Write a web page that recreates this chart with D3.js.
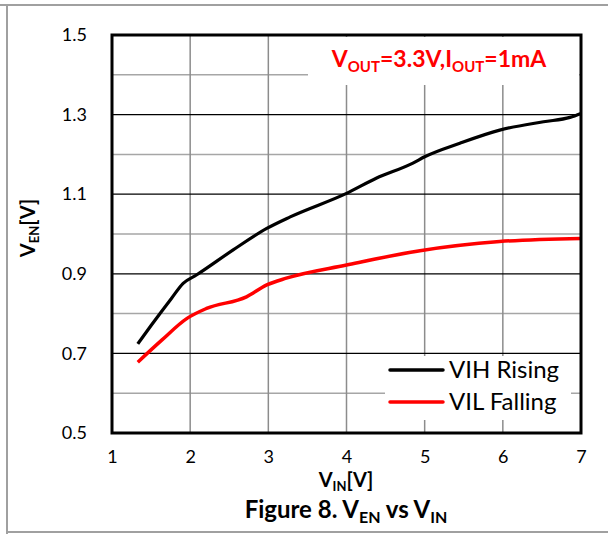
<!DOCTYPE html>
<html><head><meta charset="utf-8">
<script src="https://cdn.jsdelivr.net/npm/d3@7"></script>
<style>body{margin:0;background:#fff}svg{display:block}</style>
</head><body>
<svg id="c" width="608" height="534"></svg>
<script>
const xTicks = [1, 2, 3, 4, 5, 6, 7];
const yTicks = [0.5, 0.7, 0.9, 1.1, 1.3, 1.5];
const yMinorTicks = [0.6, 0.8, 1.0, 1.2, 1.4];
const vihX = [1.33, 1.5, 1.76, 1.91, 2.08, 2.55, 2.98, 3.28, 4.0, 4.38, 4.85, 5.0, 5.45, 5.96, 6.52, 6.86, 7.0];
const vihY = [0.724, 0.77, 0.838, 0.876, 0.897, 0.96, 1.014, 1.043, 1.102, 1.14, 1.178, 1.194, 1.228, 1.261, 1.282, 1.293, 1.303];
const vilX = [1.33, 1.64, 1.96, 2.21, 2.72, 2.98, 3.23, 4.0, 4.94, 5.96, 7.0];
const vilY = [0.678, 0.734, 0.788, 0.813, 0.842, 0.872, 0.889, 0.922, 0.958, 0.981, 0.989];
const seriesNames = ["VIH Rising", "VIL Falling"];
const seriesColors = ["#000000", "#ff0000"];

const svg = d3.select("#c");
const F = "Lato, 'Open Sans', sans-serif";
svg.append("line").attr("x1",0).attr("x2",608).attr("y1",5).attr("y2",5).attr("stroke","#a0a0a0").attr("stroke-width",2);
svg.append("line").attr("x1",7).attr("x2",7).attr("y1",5).attr("y2",534).attr("stroke","#a0a0a0").attr("stroke-width",2);
svg.append("line").attr("x1",7).attr("x2",608).attr("y1",532).attr("y2",532).attr("stroke","#a0a0a0").attr("stroke-width",2);

const L = 112, R = 581, T = 35, B = 433;
const x = d3.scaleLinear().domain([1, 7]).range([L, R]);
const y = d3.scaleLinear().domain([0.5, 1.5]).range([B, T]);

const g = svg.append("g");
g.selectAll(".hm").data(yMinorTicks).enter().append("line")
  .attr("x1", L).attr("x2", R).attr("y1", d => y(d)).attr("y2", d => y(d))
  .attr("stroke", "#a6a6a6").attr("stroke-width", 1.5);
g.selectAll(".vg").data(xTicks.slice(1, -1)).enter().append("line")
  .attr("x1", d => x(d)).attr("x2", d => x(d)).attr("y1", T).attr("y2", B)
  .attr("stroke", "#8c8c8c").attr("stroke-width", 1.5);
g.selectAll(".hM").data(yTicks.slice(1, -1)).enter().append("line")
  .attr("x1", L).attr("x2", R).attr("y1", d => y(d)).attr("y2", d => y(d))
  .attr("stroke", "#000").attr("stroke-width", 1.2);

svg.append("rect").attr("x", 308).attr("y", T + 2).attr("width", R - 310).attr("height", 48).attr("fill", "#fff");
svg.append("rect").attr("x", 385).attr("y", 356).attr("width", 186).attr("height", 64).attr("fill", "#fff");

const line = d3.line().x(d => x(d[0])).y(d => y(d[1])).curve(d3.curveMonotoneX);
const vih = vihX.map((v, i) => [v, vihY[i]]);
const vil = vilX.map((v, i) => [v, vilY[i]]);
svg.append("path").datum(vih).attr("d", line).attr("fill", "none").attr("stroke", seriesColors[0]).attr("stroke-width", 3.2).attr("stroke-linejoin","round");
svg.append("path").datum(vil).attr("d", line).attr("fill", "none").attr("stroke", seriesColors[1]).attr("stroke-width", 3.5).attr("stroke-linejoin","round");

svg.append("rect").attr("x", L).attr("y", T).attr("width", R - L).attr("height", B - T)
  .attr("fill", "none").attr("stroke", "#000").attr("stroke-width", 3);

const yAxis = d3.axisLeft(y).tickValues(yTicks).tickSize(0).tickPadding(0).tickFormat(d3.format(".1f"));
const ya = svg.append("g").attr("transform", `translate(87,0)`).call(yAxis);
ya.select(".domain").remove();
ya.selectAll("text").attr("font-family", F).attr("font-size", 18).attr("fill", "#000");

const xAxis = d3.axisBottom(x).tickValues(xTicks).tickSize(0).tickPadding(0).tickFormat(d3.format("d"));
const xa = svg.append("g").attr("transform", `translate(0,450)`).call(xAxis);
xa.select(".domain").remove();
xa.selectAll("text").attr("font-family", F).attr("font-size", 18).attr("fill", "#000");

const xt = svg.append("text").attr("x", 346).attr("y", 487).attr("text-anchor", "middle")
  .attr("font-family", F).attr("font-weight", "bold").attr("font-size", 20);
xt.append("tspan").text("V");
xt.append("tspan").attr("font-size", 13).attr("dy", 4).text("IN");
xt.append("tspan").attr("dy", -4).text("[V]");

const cp = svg.append("text").attr("x", 346).attr("y", 518).attr("text-anchor", "middle")
  .attr("font-family", F).attr("font-weight", "bold").attr("font-size", 24);
cp.append("tspan").text("Figure 8. V");
cp.append("tspan").attr("font-size", 16).attr("dy", 5).text("EN");
cp.append("tspan").attr("dy", -5).text(" vs V");
cp.append("tspan").attr("font-size", 16).attr("dy", 5).text("IN");

const yt = svg.append("text").attr("transform", "translate(35,228) rotate(-90)").attr("text-anchor", "middle")
  .attr("font-family", F).attr("font-weight", "bold").attr("font-size", 20);
yt.append("tspan").text("V");
yt.append("tspan").attr("font-size", 13).attr("dy", 4).text("EN");
yt.append("tspan").attr("dy", -4).text("[V]");

const an = svg.append("text").attr("x", 439).attr("y", 67).attr("text-anchor", "middle")
  .attr("font-family", F).attr("font-weight", "bold").attr("font-size", 23).attr("fill", "#ff0000");
an.append("tspan").text("V");
an.append("tspan").attr("font-size", 15).attr("dy", 5).text("OUT");
an.append("tspan").attr("dy", -5).text("=3.3V,I");
an.append("tspan").attr("font-size", 15).attr("dy", 5).text("OUT");
an.append("tspan").attr("dy", -5).text("=1mA");

const lg = svg.append("g");
seriesNames.forEach((n, i) => {
  const ly = 370 + i * 32;
  lg.append("line").attr("x1", 390).attr("x2", 443).attr("y1", ly).attr("y2", ly)
    .attr("stroke", seriesColors[i]).attr("stroke-width", 3.5).attr("stroke-linecap", "round");
  lg.append("text").attr("x", 449).attr("y", ly + 8).attr("font-family", F).attr("font-size", 24).text(n);
});
</script>
</body></html>
